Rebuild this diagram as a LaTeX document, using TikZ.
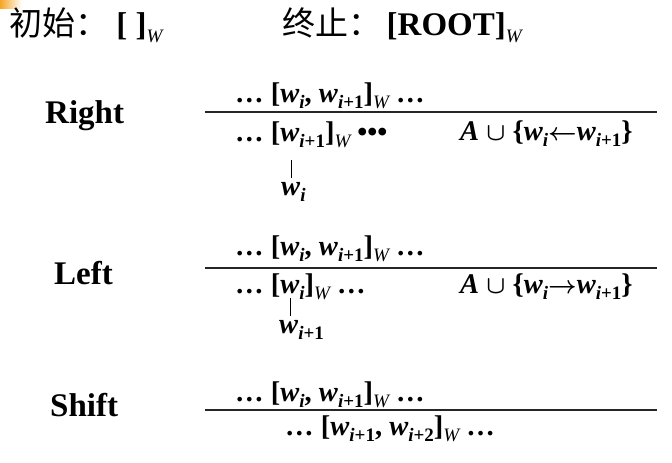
\documentclass[tikz,border=0pt]{standalone}
\usepackage{amsmath}
\usepackage{fontspec}
\setmainfont{Liberation Serif}
\newfontfamily\cjk{Noto Sans CJK SC}
\usepackage{tikz}
\definecolor{slideorange}{HTML}{F5A623}
\newcommand{\lowsub}[1]{\raisebox{-0.22em}{\fontsize{19}{20}\selectfont #1}}
\newcommand{\wsub}[1]{\textit{w}\lowsub{\itshape #1}}
\newcommand{\Wsub}{\lowsub{\mdseries\itshape W}}

\begin{document}
\begin{tikzpicture}[x=1pt,y=-1pt,
  lab/.style={anchor=base west,inner sep=0pt,font=\fontsize{33}{36}\selectfont\bfseries},
  row/.style={anchor=base west,inner sep=0pt,font=\fontsize{28.5}{32}\selectfont\bfseries\boldmath},
  rule/.style={line width=1.4pt,black!85},
  bar/.style={line width=0.8pt,shorten >=4pt}]
  \useasboundingbox (0,0) rectangle (672,463);
  \shade[left color=slideorange,right color=white] (0,0) rectangle (22,8);
  % initial and final configuration
  \node[lab] (init) at (9,35) {{\cjk\mdseries 初始：}\ [ ]\Wsub};
  \node[lab] (final) at (282,35) {{\cjk\mdseries 终止：}\,[ROOT]\Wsub};
  % Right
  \node[lab] (right) at (45,123) {Right};
  \node[row] (rtop) at (235,102) {\ldots\ [\wsub{i}, \wsub{i\upshape+1}]\Wsub\ \ldots};
  \draw[rule] (205,112) -- (657,112);
  \node[row] (rbot) at (235,141) {\ldots\ [\wsub{i\upshape+1}]\Wsub\ •••};
  \node[row] (rset) at (460,140) {\textit{A} $\cup$ \{\wsub{i}$\leftarrow$\wsub{i\upshape+1}\}};
  \node[row] (rdep) at (281,195) {\wsub{i}};
  \coordinate (rhead) at (291,160);
  \draw[bar] (rhead) -- (rhead |- rdep.north);
  % Left
  \node[lab] (left) at (54,284) {Left};
  \node[row] (ltop) at (235,255) {\ldots\ [\wsub{i}, \wsub{i\upshape+1}]\Wsub\ \ldots};
  \draw[rule] (205,268) -- (657,268);
  \node[row] (lbot) at (235,293) {\ldots\ [\wsub{i}]\Wsub\ \ldots};
  \node[row] (lset) at (460,293) {\textit{A} $\cup$ \{\wsub{i}$\rightarrow$\wsub{i\upshape+1}\}};
  \node[row] (ldep) at (279,333) {\wsub{i\upshape+1}};
  \coordinate (lhead) at (290,298);
  \draw[bar] (lhead) -- (lhead |- ldep.north);
  % Shift
  \node[lab] (shift) at (50,416) {Shift};
  \node[row] (stop) at (235,401) {\ldots\ [\wsub{i}, \wsub{i\upshape+1}]\Wsub\ \ldots};
  \draw[rule] (205,410) -- (657,410);
  \node[row] (sbot) at (285,435) {\ldots\ [\wsub{i\upshape+1}, \wsub{i\upshape+2}]\Wsub\ \ldots};
\end{tikzpicture}
\end{document}
